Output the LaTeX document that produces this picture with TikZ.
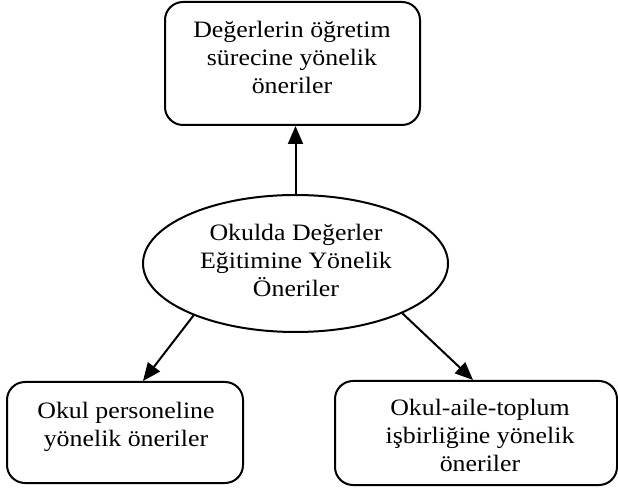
\documentclass[tikz,border=0pt]{standalone}
\usepackage{fontspec}
\setmainfont{Liberation Serif}[FakeStretch=1.1]
\usetikzlibrary{shapes.geometric,arrows.meta,calc}
\begin{document}
\begin{tikzpicture}[x=1pt,y=1pt,
  box/.style={draw,line width=2pt,rounded corners=18pt,inner sep=0pt},
  oval/.style={draw,ellipse,line width=2pt,inner sep=0pt},
  txt/.style={align=center,inner sep=0pt,font=\fontsize{23.5}{28}\selectfont},
  arr/.style={line width=2pt,-{Triangle[length=18pt,width=15pt]}}]
\useasboundingbox (0,0) rectangle (618,487);
\node[box,minimum width=255pt,minimum height=123pt] (top) at (292.5,423.5) {};
\node[oval,minimum width=305pt,minimum height=137pt] (ell) at (295.5,223.5) {};
\node[box,minimum width=236pt,minimum height=101pt] (lb) at (125,54.5) {};
\node[box,minimum width=282pt,minimum height=104pt] (rb) at (476,54) {};
\node[txt,anchor=base] (toptxt) at (292,393.5) {Değerlerin öğretim\\sürecine yönelik\\öneriler};
\node[txt,anchor=base] (elltxt) at (296,190.3) {Okulda Değerler\\Eğitimine Yönelik\\Öneriler};
\node[txt,anchor=base] (lbtxt) at (126,40.3) {Okul personeline\\yönelik öneriler};
\node[txt,anchor=base] (rbtxt) at (480,15.3) {Okul-aile-toplum\\işbirliğine yönelik\\öneriler};
\draw[arr] (ell.north) -- (ell.north |- top.south);
\draw[arr] (ell.207) -- ([xshift=18pt]lb.north);
\draw[arr] (ell.335.5) -- ([xshift=-3pt]rb.north);
\end{tikzpicture}
\end{document}
